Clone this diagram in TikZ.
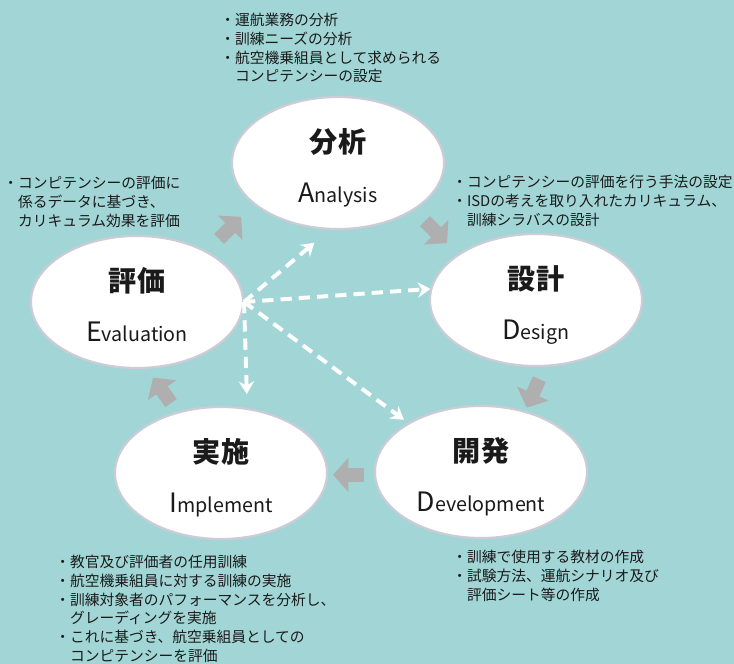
\documentclass[tikz,border=0pt]{standalone}
\usepackage{fontspec}
\setmainfont{Noto Sans CJK JP}
\usetikzlibrary{shapes.geometric, arrows.meta, calc}
\definecolor{BgTeal}{HTML}{A2D6D6}
\definecolor{ArrowGray}{HTML}{AFAFAF}
\definecolor{RimGray}{HTML}{CDCCD6}
\definecolor{InkBlack}{HTML}{1A1A1A}

% big first letter, smaller rest
\newcommand{\stageword}[2]{{\fontsize{19pt}{22pt}\selectfont #1}{\fontsize{14pt}{17pt}\selectfont #2}}
\newcommand{\hang}{\hspace*{1em}}

\tikzset{
  stage/.style={ellipse, draw=RimGray, line width=1.5pt, fill=white,
                minimum width=5.3cm, minimum height=3.3cm, inner sep=0pt},
  jtitle/.style={text=InkBlack, font=\fontsize{20pt}{24pt}\selectfont\bfseries},
  etitle/.style={anchor=base, text=InkBlack, inner sep=0pt},
  notes/.style={anchor=north west, align=left, inner sep=0pt, text=InkBlack,
                font=\fontsize{10.5pt}{13.3pt}\selectfont},
  cycarrow/.style={draw=ArrowGray, line width=10pt, -{Triangle[length=11pt, width=24pt]}},
  linkarrow/.style={draw=white, line width=2.8pt, dash pattern=on 8pt off 5pt,
                    -{Stealth[length=9pt, width=11pt]}},
}

\begin{document}
\begin{tikzpicture}
    \useasboundingbox (0,0) rectangle (18.35,16.6);
    \fill[BgTeal] (0,0) rectangle (18.35,16.6);

    % the five stages
    \node[stage] (ana) at (8.45,12.525) {};
    \node[stage] (eva) at (3.425,9.05) {};
    \node[stage] (des) at (13.4,9.1) {};
    \node[stage] (imp) at (5.525,4.775) {};
    \node[stage] (dev) at (12.025,4.8) {};

    \node[jtitle] (anaJ) at ([yshift=0.525cm]ana.center) {分析};
    \node[etitle] (anaE) at ([yshift=-0.98cm]ana.center) {\stageword{A}{nalysis}};
    \node[jtitle] (evaJ) at ([yshift=0.525cm]eva.center) {評価};
    \node[etitle] (evaE) at ([yshift=-0.98cm]eva.center) {\stageword{E}{valuation}};
    \node[jtitle] (desJ) at ([yshift=0.525cm]des.center) {設計};
    \node[etitle] (desE) at ([yshift=-0.98cm]des.center) {\stageword{D}{esign}};
    \node[jtitle] (impJ) at ([yshift=0.525cm]imp.center) {実施};
    \node[etitle] (impE) at ([yshift=-0.98cm]imp.center) {\stageword{I}{mplement}};
    \node[jtitle] (devJ) at ([yshift=0.525cm]dev.center) {開発};
    \node[etitle] (devE) at ([yshift=-0.98cm]dev.center) {\stageword{D}{evelopment}};

    % cycle arrows
    \draw[cycarrow] ($(eva)!.5!(ana)$) ++(-0.46,-0.16) -- ++(45:0.78);
    \draw[cycarrow] ($(ana)!.5!(des)$) ++(-0.3,0.26) -- ++(-45:0.78);
    \draw[cycarrow] ($(des)!.5!(dev)$) ++(0.77,0.17) -- ++(246:0.78);
    \draw[cycarrow] ($(dev)!.5!(imp)$) ++(0.33,-0.06) -- ++(180:0.78);
    \draw[cycarrow] ($(imp)!.5!(eva)$) ++(-0.2,-0.39) -- ++(125:0.78);

    % feedback from evaluation
    \draw[linkarrow, shorten >=0.5cm] (eva.east) -- (ana.263);
    \draw[linkarrow] (eva.east) -- (des.174);
    \draw[linkarrow, shorten >=0.35cm] (eva.east) -- (imp.68);
    \draw[linkarrow, shorten >=0.13cm] (eva.east) -- (dev.146);

    % notes
    \node[notes] (anaN) at (5.5,16.275) {・運航業務の分析\\
        ・訓練ニーズの分析\\
        ・航空機乗組員として求められる\\
        \hang コンピテンシーの設定};
    \node[notes] (evaN) at (0.075,12.2) {・コンピテンシーの評価に\\
        \hang 係るデータに基づき、\\
        \hang カリキュラム効果を評価};
    \node[notes] (desN) at (11.3,12.225) {・コンピテンシーの評価を行う手法の設定\\
        ・ISDの考えを取り入れたカリキュラム、\\
        \hang 訓練シラバスの設計};
    \node[notes] (impN) at (1.375,2.725) {・教官及び評価者の任用訓練\\
        ・航空機乗組員に対する訓練の実施\\
        ・訓練対象者のパフォーマンスを分析し、\\
        \hang グレーディングを実施\\
        ・これに基づき、航空乗組員としての\\
        \hang コンピテンシーを評価};
    \node[notes] (devN) at (11.3,2.85) {・訓練で使用する教材の作成\\
        ・試験方法、運航シナリオ及び\\
        \hang 評価シート等の作成};
\end{tikzpicture}
\end{document}
